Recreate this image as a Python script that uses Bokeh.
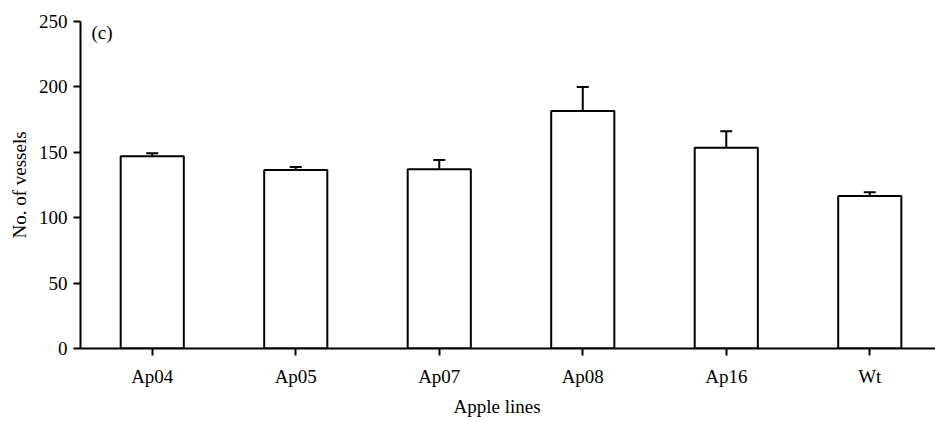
from bokeh.plotting import figure
from bokeh.models import Range1d, FixedTicker, Whisker, TeeHead, ColumnDataSource, Label, Title
from bokeh.embed import file_html
from bokeh.resources import INLINE

categories = ["Ap04", "Ap05", "Ap07", "Ap08", "Ap16", "Wt"]
means = [147, 136.5, 137, 181.5, 153.5, 116.5]
errors = [2.3, 2.3, 7.2, 18.5, 12.6, 3.0]
y_ticks = [0, 50, 100, 150, 200, 250]

FONT = "Liberation Serif"
xs = list(range(len(categories)))
src = ColumnDataSource(dict(
    x=xs, top=means,
    upper=[m + e for m, e in zip(means, errors)],
))

p = figure(width=935, height=421, output_backend="svg", toolbar_location=None,
           x_range=Range1d(-0.5, 5.458), y_range=Range1d(0, 250),
           min_border_left=80, min_border_right=0, min_border_top=21, min_border_bottom=73)
p.outline_line_color = None
p.xgrid.visible = False
p.ygrid.visible = False

p.vbar(x="x", top="top", bottom=0, width=0.44, source=src,
       fill_color="white", line_color="black", line_width=2)
w = Whisker(base="x", lower="top", upper="upper", source=src, dimension="height",
            line_color="black", line_width=2, lower_head=None,
            upper_head=TeeHead(size=12, line_color="black", line_width=2))
p.add_layout(w)

for ax in (p.xaxis[0], p.yaxis[0]):
    ax.axis_line_width = 2
    ax.major_tick_line_width = 2
    ax.minor_tick_line_color = None
    ax.major_tick_in = 0
    ax.major_label_text_font = FONT
    ax.major_label_text_font_size = "19px"
    ax.major_label_text_color = "black"
    ax.axis_label_text_font = FONT
    ax.axis_label_text_font_size = "19px"
    ax.axis_label_text_font_style = "normal"
    ax.axis_label_text_color = "black"

p.yaxis.ticker = FixedTicker(ticks=y_ticks)
p.yaxis.major_tick_out = 7
p.yaxis.major_label_standoff = 6
p.yaxis.axis_label = "No. of vessels"
p.yaxis.axis_label_standoff = 6

p.xaxis.ticker = FixedTicker(ticks=xs)
p.xaxis.major_label_overrides = {i: c for i, c in zip(xs, categories)}
p.xaxis.major_tick_out = 7
p.xaxis.major_label_standoff = 10

xlab = Title(text="Apple lines", align="left", offset=373,
             text_font=FONT, text_font_size="19px", text_font_style="normal",
             text_color="black", standoff=8)
p.add_layout(xlab, "below")
p.add_layout(Label(x=11, y=327, x_units="screen", y_units="screen", text="(c)",
                   text_font=FONT, text_font_size="19px", text_align="left",
                   text_baseline="top", text_color="black"))

open("out.html", "w").write(file_html(p, INLINE))
